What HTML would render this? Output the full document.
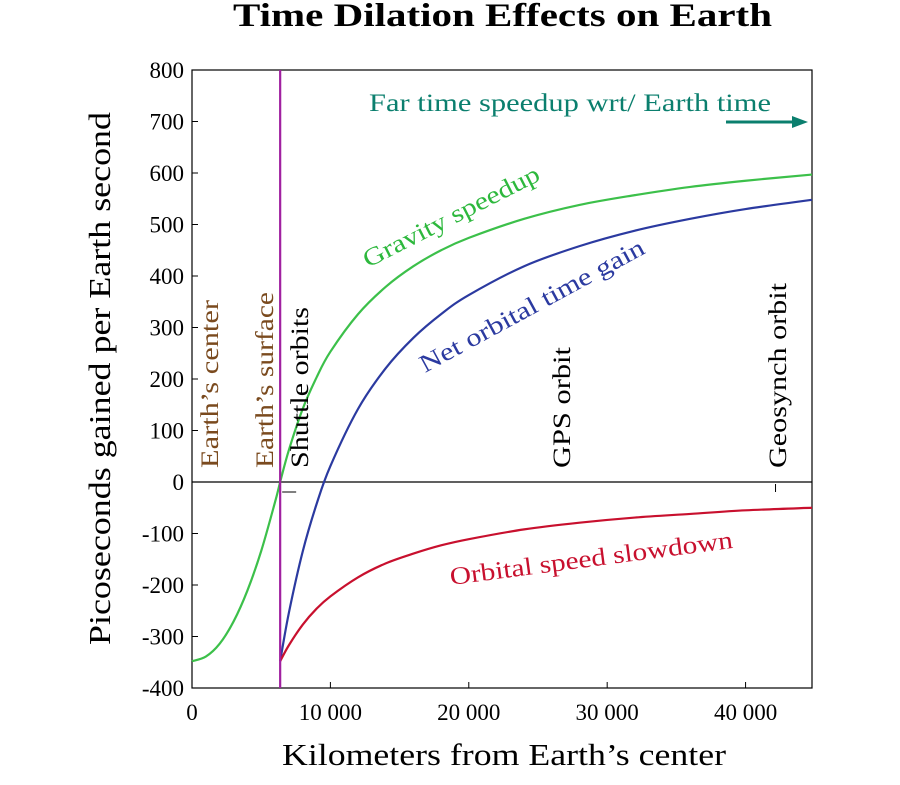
<!DOCTYPE html>
<html><head><meta charset="utf-8"><style>
html,body{margin:0;padding:0;background:#fff}
svg text{font-family:"Liberation Serif",serif}
</style></head><body>
<svg id="c" width="900" height="780" viewBox="0 0 900 780">
<text x="233" y="26" textLength="539" lengthAdjust="spacingAndGlyphs" font-size="33" font-weight="bold" fill="#000">Time Dilation Effects on Earth</text>
<rect x="192" y="70" width="620" height="618" fill="none" stroke="#000" stroke-width="1.2"/>
<g id="ticks"></g>
<g id="series"></g>
<text transform="translate(110,645) rotate(-90)" textLength="533" lengthAdjust="spacingAndGlyphs" font-size="31">Picoseconds gained per Earth second</text>
<text x="282" y="765" textLength="444" lengthAdjust="spacingAndGlyphs" font-size="31">Kilometers from Earth’s center</text>
<text x="369" y="111" textLength="402" lengthAdjust="spacingAndGlyphs" font-size="25" fill="#0b7f6e">Far time speedup wrt/ Earth time</text>
<line x1="726" y1="122" x2="795" y2="122" stroke="#0b7f6e" stroke-width="3"/>
<polygon points="808,122 792,116 792,128" fill="#0b7f6e"/>
<text transform="translate(368,268) rotate(-27)" textLength="195" lengthAdjust="spacingAndGlyphs" font-size="25" fill="#2db83d">Gravity speedup</text>
<text transform="translate(425,373) rotate(-28.5)" textLength="252" lengthAdjust="spacingAndGlyphs" font-size="25" fill="#2b3aa0">Net orbital time gain</text>
<text transform="translate(451,585) rotate(-7.5)" textLength="285" lengthAdjust="spacingAndGlyphs" font-size="25" fill="#c8102e">Orbital speed slowdown</text>
<text transform="translate(218,468) rotate(-90)" textLength="168" lengthAdjust="spacingAndGlyphs" font-size="25" fill="#7a4a1e">Earth’s center</text>
<text transform="translate(273,468) rotate(-90)" textLength="176" lengthAdjust="spacingAndGlyphs" font-size="25" fill="#7a4a1e">Earth’s surface</text>
<text transform="translate(308,468) rotate(-90)" textLength="161" lengthAdjust="spacingAndGlyphs" font-size="25">Shuttle orbits</text>
<text transform="translate(570,468) rotate(-90)" textLength="121" lengthAdjust="spacingAndGlyphs" font-size="25">GPS orbit</text>
<text transform="translate(786,468) rotate(-90)" textLength="185" lengthAdjust="spacingAndGlyphs" font-size="25">Geosynch orbit</text>
</svg>
<script>
const yTicks=[800,700,600,500,400,300,200,100,0,-100,-200,-300,-400];
const xTicks=[0,10000,20000,30000,40000];
const xTickLabels=["0","10 000","20 000","30 000","40 000"];
const gravX=[0,1000,2000,3000,4000,5000,6000,6371,7000,8000,9000,10000,12000,14000,16000,18000,20000,24000,28000,32000,36000,40000,44800];
const gravY=[-348,-339,-314,-271,-211,-134,-39,0,62,142,203,253,326,379,419,450,474,511,538,557,573,585,597];
const orbX=[6371,7000,8000,9000,10000,12000,14000,16000,18000,20000,24000,28000,32000,36000,40000,44800];
const orbY=[-348,-317,-277,-246,-222,-185,-158,-139,-123,-111,-92,-79,-69,-62,-55,-50];
const netY=[-348,-254,-135,-43,31,142,221,280,326,363,419,458,488,511,530,548];
const surfaceKm=6371, gpsKm=26560, geoKm=42164;
const X0=192,X1=812,XMAX=44800,Y0=688,Y1=70;
const sx=v=>X0+(v/XMAX)*(X1-X0);
const sy=v=>Y0-(v+400)/1200*(Y0-Y1);
const NS="http://www.w3.org/2000/svg";
function mk(tag,at,parent){const e=document.createElementNS(NS,tag);for(const k in at)e.setAttribute(k,at[k]);parent.appendChild(e);return e;}
const tg=document.getElementById('ticks'),sg=document.getElementById('series');
yTicks.forEach(v=>{
 const l=mk('line',{x1:X0,x2:X0+6,y1:sy(v),y2:sy(v),stroke:'#000'},tg);
 
 
 const t=mk('text',{x:X0-8,y:sy(v)+8,'text-anchor':'end','font-size':23},tg);t.textContent=v;
 
 
});
xTicks.forEach((v,i)=>{
 const l=mk('line',{x1:sx(v),x2:sx(v),y1:Y0,y2:Y0-6,stroke:'#000'},tg);
 
 
 const t=mk('text',{x:sx(v),y:Y0+32,'text-anchor':'middle','font-size':23},tg);t.textContent=xTickLabels[i];
 
 
});
const zl=mk('line',{x1:X0,x2:X1,y1:sy(0),y2:sy(0),stroke:'#000','stroke-width':1.2},tg);


const m1=mk('line',{x1:sx(surfaceKm)+2,x2:sx(surfaceKm)+16,y1:sy(0)+10,y2:sy(0)+10,stroke:'#000'},tg);


const m2=mk('line',{x1:sx(geoKm),x2:sx(geoKm),y1:sy(0)+2,y2:sy(0)+10,stroke:'#000'},tg);


function pathD(xs,ys){
 const p=xs.map((x,i)=>[sx(x),sy(ys[i])]);
 let d='M'+p[0][0]+','+p[0][1];
 for(let i=0;i<p.length-1;i++){
  const a=p[Math.max(0,i-1)],b=p[i],c=p[i+1],e=p[Math.min(p.length-1,i+2)];
  d+=' C'+(b[0]+(c[0]-a[0])/6)+','+(b[1]+(c[1]-a[1])/6)+' '+(c[0]-(e[0]-b[0])/6)+','+(c[1]-(e[1]-b[1])/6)+' '+c[0]+','+c[1];
 }
 return d;
}
const g=mk('path',{d:pathD(gravX,gravY),fill:'none',stroke:'#3cc04a','stroke-width':2.2},sg);


const n=mk('path',{d:pathD(orbX,netY),fill:'none',stroke:'#2b3aa0','stroke-width':2.2},sg);


const o=mk('path',{d:pathD(orbX,orbY),fill:'none',stroke:'#c8102e','stroke-width':2.2},sg);


const pl=mk('line',{x1:sx(surfaceKm),x2:sx(surfaceKm),y1:Y1,y2:Y0,stroke:'#a020a0','stroke-width':2.2},sg);


</script>
</body></html>
